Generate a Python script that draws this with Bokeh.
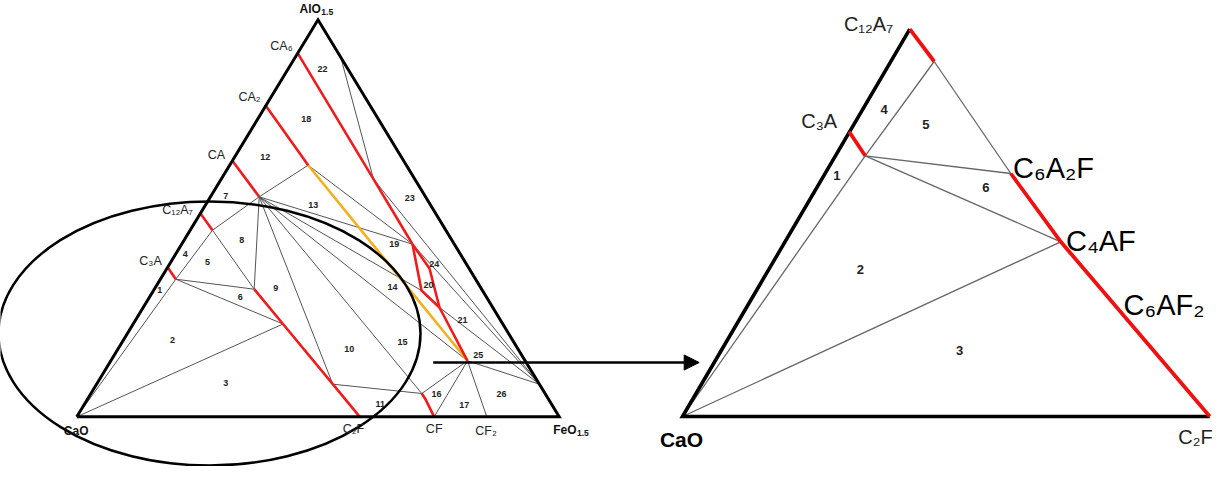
from bokeh.plotting import figure
from bokeh.models import Range1d, Arrow, NormalHead
from bokeh.embed import file_html
from bokeh.resources import INLINE
from bokeh.core.properties import value

# ---------------- left diagram: node positions (page pixel frame) ----------------
left_names = ["CaO", "FeO", "AlO", "CA6", "CA2", "CA", "C12A7", "C3A", "C2F", "CF", "CF2",
              "E1", "PR", "A", "B", "H1", "Y0", "N9", "N3", "N10", "N16", "N16b", "P25",
              "K", "Q", "T", "LR", "LL", "M"]
left_x = [84.3, 566.7, 325.5, 305.0, 272.8, 239.5, 207.8, 174.8, 367.3, 441.7, 494.3,
          348.3, 546.8, 220.0, 183.3, 266.7, 315.7, 261.7, 290.5, 340.3, 429.3, 433.3, 475.0,
          381.0, 413.0, 420.0, 437.0, 429.0, 447.0]
left_y = [424.3, 424.3, 27.3, 60.3, 112.5, 167.7, 220.7, 274.3, 424.3, 424.3, 424.3,
          65.0, 391.7, 237.7, 286.7, 204.3, 172.7, 296.7, 331.5, 391.7, 401.0, 407.3, 368.3,
          186.7, 240.0, 251.7, 276.0, 298.0, 315.0]

left_edges = [["CaO", "FeO", "AlO", "CaO"]]
left_red = [["CA6", "K", "Q", "T"], ["T", "LR", "M"], ["T", "LL", "M"], ["M", "P25"],
            ["CA2", "Y0"], ["CA", "H1"], ["C12A7", "A"], ["C3A", "B"],
            ["N9", "N3", "N10", "C2F"], ["N16", "N16b", "CF"]]
left_yellow = [["Y0", "P25"]]
left_gray = [["CaO", "B"], ["CaO", "N3"], ["B", "N9"], ["B", "N3"], ["A", "B"], ["A", "N9"],
             ["A", "H1"], ["H1", "Y0"], ["H1", "N9"], ["H1", "N10"], ["H1", "N16"],
             ["H1", "P25"], ["H1", "LL"], ["H1", "T"], ["Y0", "T"], ["N10", "N16"],
             ["N16", "P25"], ["CF", "P25"], ["CF2", "P25"], ["P25", "PR"], ["E1", "K"],
             ["K", "PR"], ["T", "PR"], ["M", "PR"]]

# ---------------- right diagram (enlarged CaO corner) ----------------
right_names = ["CaO", "C2F", "C12A7", "A", "C3A", "B", "C6A2F", "C4AF"]
right_x = [690.0, 1217.3, 917.3, 941.7, 856.7, 872.7, 1018.3, 1068.3]
right_y = [424.0, 424.0, 36.7, 69.0, 139.3, 163.3, 181.0, 249.3]

right_edges = [["C12A7", "CaO", "C2F"]]
right_red = [["C12A7", "A"], ["C3A", "B"], ["C6A2F", "C4AF", "C2F"]]
right_gray = [["A", "B"], ["A", "C6A2F"], ["B", "C6A2F"], ["B", "C4AF"], ["B", "CaO"],
              ["CaO", "C4AF"]]

# ---------------- labels ----------------
left_comp_text = ["CA₆", "CA₂", "CA", "C₁₂A₇", "C₃A", "C₂F", "CF", "CF₂"]
left_comp_x = [289.0, 257.0, 224.0, 185.0, 158.0, 361.0, 441.7, 493.5]
left_comp_y = [53.0, 104.0, 162.0, 217.0, 268.0, 436.5, 436.5, 438.5]

corner_text = ["AlO", "CaO", "FeO"]
corner_sub = ["1.5", "", "1.5"]
corner_x = [328.3, 96.0, 584.0]      # right end of the main text
corner_y = [16.0, 438.0, 437.3]

left_num_text = [str(i) for i in range(1, 27)]
left_num_x = [167.3, 180.0, 233.3, 192.7, 215.0, 247.7, 233.3, 249.3, 283.3, 356.7, 387.7,
              272.7, 320.7, 400.0, 410.0, 444.0, 471.7, 313.7, 401.7, 436.0, 470.0, 330.0,
              417.3, 441.7, 485.7, 509.0]
left_num_y = [297.3, 347.3, 390.0, 261.7, 269.3, 304.7, 203.3, 247.3, 295.3, 356.0, 411.7,
              164.3, 212.3, 294.3, 349.3, 401.7, 412.7, 126.0, 251.0, 292.7, 327.5, 76.0,
              205.0, 271.0, 362.3, 401.0]

right_small_text = ["C₁₂A₇", "C₃A", "C₂F"]
right_small_x = [876.0, 826.7, 1203.0]
right_small_y = [31.0, 128.3, 444.0]
right_big_text = ["C₆A₂F", "C₄AF", "C₆AF₂"]
right_big_x = [1020.5, 1073.5, 1131.0]
right_big_y = [175.5, 248.0, 312.0]
right_num_text = ["1", "2", "3", "4", "5", "6"]
right_num_x = [844.3, 867.9, 967.0, 891.7, 933.3, 993.3]
right_num_y = [182.7, 277.1, 358.0, 116.7, 131.7, 195.0]

ellipse_x, ellipse_y, ellipse_w, ellipse_h = [217.0], [341.0], [422.0], [264.0]
arrow_x = [440.7, 706.7]
arrow_y = [370.0, 370.0]

# ---------------- figure ----------------
W, H = 1213, 466
p = figure(width=W, height=H, x_range=Range1d(8, 8 + W), y_range=Range1d(8 + H, 8),
           output_backend="svg", toolbar_location=None, min_border=0,
           x_axis_location=None, y_axis_location=None)
p.grid.visible = False
p.outline_line_color = None
p.background_fill_color = "white"

def paths(names, xs, ys, groups):
    lut = {n: (x, y) for n, x, y in zip(names, xs, ys)}
    return ([[lut[n][0] for n in g] for g in groups], [[lut[n][1] for n in g] for g in groups])

FONT = value("Liberation Sans")

# left diagram
gx, gy = paths(left_names, left_x, left_y, left_gray)
p.multi_line(gx, gy, line_color="#555555", line_width=1.0)
yx, yy = paths(left_names, left_x, left_y, left_yellow)
p.multi_line(yx, yy, line_color="#f2b01e", line_width=2.6)
rx, ry = paths(left_names, left_x, left_y, left_red)
p.multi_line(rx, ry, line_color="#ee1c1c", line_width=2.6, line_join="round")
ex, ey = paths(left_names, left_x, left_y, left_edges)
p.multi_line(ex, ey, line_color="black", line_width=3.0, line_join="miter")

# right diagram
gx, gy = paths(right_names, right_x, right_y, right_gray)
p.multi_line(gx, gy, line_color="#666666", line_width=1.3)
ex, ey = paths(right_names, right_x, right_y, right_edges)
p.multi_line(ex, ey, line_color="black", line_width=3.6, line_join="miter")
rx, ry = paths(right_names, right_x, right_y, right_red)
p.multi_line(rx, ry, line_color="#ee1111", line_width=3.8)

# ellipse and arrow
p.ellipse(x=ellipse_x, y=ellipse_y, width=ellipse_w, height=ellipse_h,
          fill_color=None, line_color="black", line_width=2.5)
p.add_layout(Arrow(end=NormalHead(size=15, fill_color="black", line_color="black"),
                   x_start=arrow_x[0], y_start=arrow_y[0], x_end=arrow_x[1], y_end=arrow_y[1],
                   line_width=2.5, line_color="black"))

# labels
p.text(left_comp_x, left_comp_y, text=left_comp_text, text_font=FONT, text_font_size="12.5px",
       text_color="#222222", text_align="center", text_baseline="middle")
p.text(corner_x, corner_y, text=corner_text, text_font=FONT, text_font_size="12px",
       text_font_style="bold", text_color="#111111", text_align="right", text_baseline="middle")
p.text([x + 0.5 for x in corner_x], [y + 3.5 for y in corner_y], text=corner_sub, text_font=FONT,
       text_font_size="8.5px", text_font_style="bold", text_color="#111111",
       text_align="left", text_baseline="middle")
p.text(left_num_x, left_num_y, text=left_num_text, text_font=FONT, text_font_size="9px",
       text_font_style="bold", text_color="#222222", text_align="center", text_baseline="middle")
p.text(right_small_x, right_small_y, text=right_small_text, text_font=FONT,
       text_font_size="20px", text_color="#222222", text_align="center", text_baseline="middle")
p.text(right_big_x, right_big_y, text=right_big_text, text_font=FONT,
       text_font_size="29px", text_color="black", text_align="left", text_baseline="middle")
p.text(right_num_x, right_num_y, text=right_num_text, text_font=FONT, text_font_size="13px",
       text_font_style="bold", text_color="#222222", text_align="center", text_baseline="middle")
p.text([689.0], [447.0], text=["CaO"], text_font=FONT, text_font_size="21px",
       text_font_style="bold", text_color="black", text_align="center", text_baseline="middle")

open("out.html", "w").write(file_html(p, INLINE))
